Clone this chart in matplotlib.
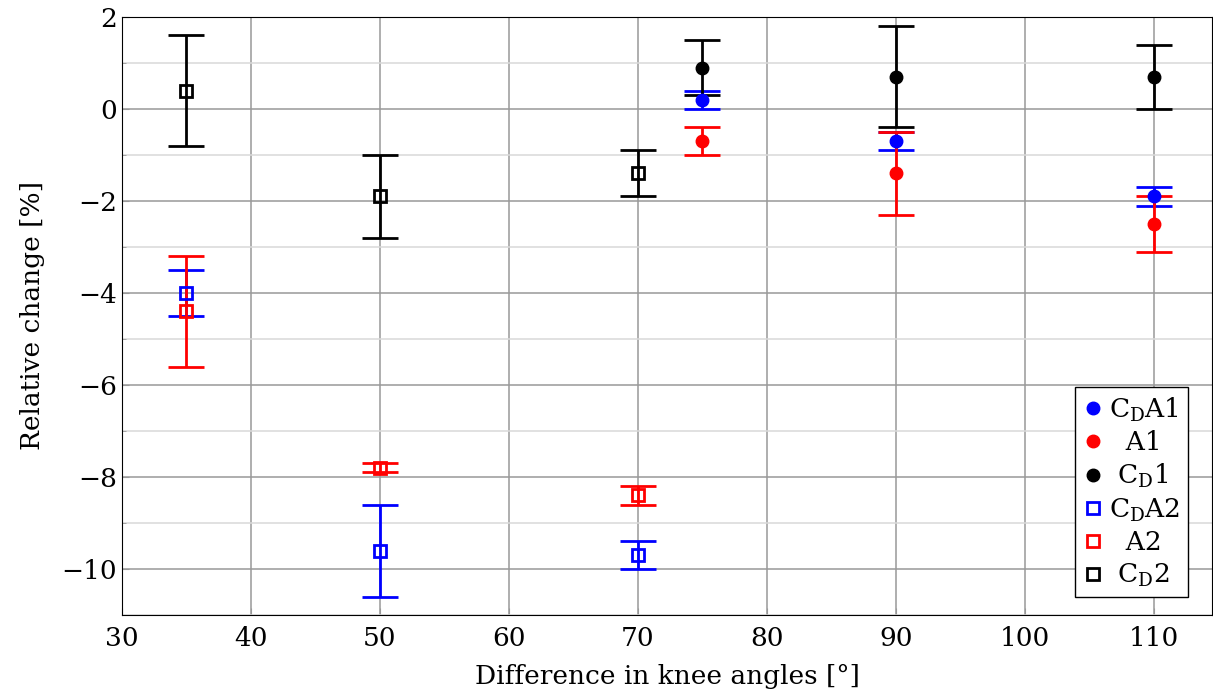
import matplotlib
matplotlib.use('Agg')
import matplotlib.pyplot as plt
from matplotlib.lines import Line2D
from matplotlib.ticker import MultipleLocator

plt.rcParams['font.family'] = ['DejaVu Serif']
plt.rcParams['mathtext.fontset'] = 'dejavuserif'

# Séries avec marqueurs pleins (angles 75, 90, 110)
x_1 = [75, 90, 110]
cda1 = [0.2, -0.7, -1.9]
cda1_err = [0.2, 0.2, 0.2]
a1 = [-0.7, -1.4, -2.5]
a1_err = [0.3, 0.9, 0.6]
cd1 = [0.9, 0.7, 0.7]
cd1_err = [0.6, 1.1, 0.7]

# Séries avec marqueurs carrés (angles 35, 50, 70)
x_2 = [35, 50, 70]
cda2 = [-4.0, -9.6, -9.7]
cda2_err = [0.5, 1.0, 0.3]
a2 = [-4.4, -7.8, -8.4]
a2_err = [1.2, 0.1, 0.2]
cd2 = [0.4, -1.9, -1.4]
cd2_err = [1.2, 0.9, 0.5]

series = [
    (x_1, cda1, cda1_err, 'blue', 'o', r'$\mathrm{C_D}$A1'),
    (x_1, a1, a1_err, 'red', 'o', '  A1'),
    (x_1, cd1, cd1_err, 'black', 'o', r' $\mathrm{C_D}$1'),
    (x_2, cda2, cda2_err, 'blue', 's', r'$\mathrm{C_D}$A2'),
    (x_2, a2, a2_err, 'red', 's', '  A2'),
    (x_2, cd2, cd2_err, 'black', 's', r' $\mathrm{C_D}$2'),
]

fig = plt.figure(figsize=(12.13, 6.94), dpi=100)
ax = fig.add_axes([122 / 1213, 1 - 615 / 694, 1090 / 1213, 598 / 694])

handles = []
for x, y, err, col, mk, lab in series:
    if mk == 'o':
        mstyle = dict(marker='o', markersize=9, markerfacecolor=col,
                      markeredgecolor=col)
    else:
        mstyle = dict(marker='s', markersize=8, markerfacecolor='none',
                      markeredgecolor=col, markeredgewidth=2)
    ax.errorbar(x, y, yerr=err, color=col, linestyle='none', capsize=13,
                elinewidth=2, capthick=2, **mstyle)
    handles.append(Line2D([], [], linestyle='none', label=lab, **mstyle))

ax.set_xlim(30, 114.5)
ax.set_ylim(-11, 2)
ax.xaxis.set_major_locator(MultipleLocator(10))
ax.yaxis.set_major_locator(MultipleLocator(2))
ax.yaxis.set_minor_locator(MultipleLocator(1))

ax.grid(which='major', color='#999999', linewidth=1.1)
ax.grid(which='minor', axis='y', color='#d9d9d9', linewidth=1.1)
ax.set_axisbelow(True)
ax.tick_params(which='both', direction='in', length=5, color='#999999',
               labelsize=19)
ax.tick_params(which='minor', length=3)
ax.tick_params(axis='x', pad=8)

ax.set_xlabel('Difference in knee angles [°]', fontsize=19, labelpad=9)
ax.set_ylabel('Relative change [%]', fontsize=19, labelpad=12)

ax.legend(handles=handles, loc='lower right', bbox_to_anchor=(0.978, 0.03),
          fontsize=19, frameon=True, fancybox=False, edgecolor='black',
          framealpha=1, handlelength=0.8, handletextpad=0.2, borderpad=0.3,
          labelspacing=0.25, borderaxespad=0)

fig.savefig('out.png', dpi=100)
